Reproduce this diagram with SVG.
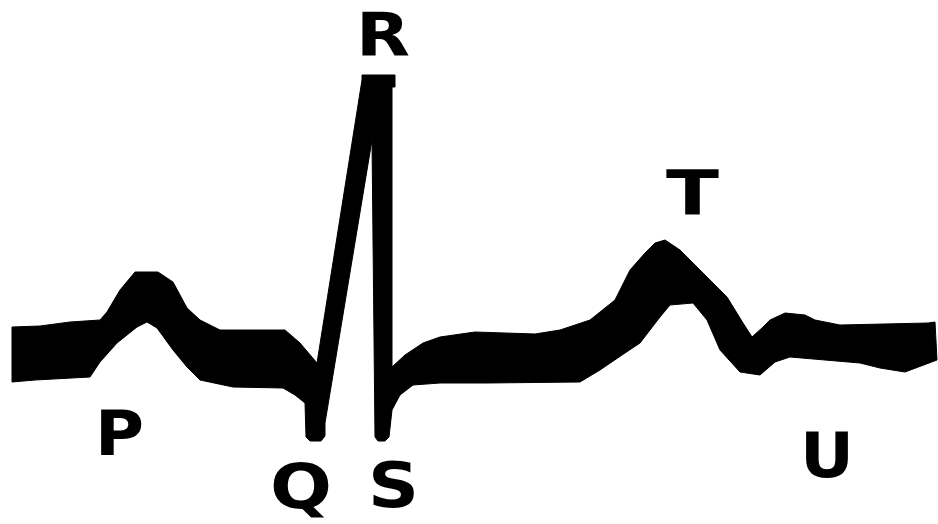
<svg xmlns="http://www.w3.org/2000/svg" width="938" height="524" viewBox="0 0 938 524">
<style>
.lbl{font-family:"DejaVu Sans","Verdana",sans-serif;font-weight:bold;font-size:62px;fill:#000;text-anchor:middle}
.wave{fill:#000;stroke:#000;stroke-width:1;stroke-linejoin:round}
</style>
<rect width="938" height="524" fill="#fff"/>
<g id="waveform">
<polygon class="wave" points="12,327 40,326 70,322 100,320 107,312 120,290 135,272 158,272 173,282 187,308 200,320 220,330 285,330 300,343 317,363 362,80 362,75 395,75 395,87 392,87 392,367 405,355 423,343 440,337 475,332 535,334 560,330 590,320 615,300 630,270 645,253 655,243 665,240 680,250 700,270 727,297 743,323 752,337 762,328 770,320 785,313 805,315 815,320 840,325 928,323 935,322 937,360 905,372 880,368 860,363 790,357 775,362 760,375 740,372 720,350 707,320 693,303 670,305 660,317 640,343 625,353 600,370 580,382 487,383 440,383 413,385 400,395 392,410 389,437 385,441 378,441 375,437 372,140 325,423 325,436 321,441 310,441 306,437 305,403 295,395 283,388 233,387 200,380 187,367 173,350 157,328 147,322 137,327 117,343 100,362 90,377 35,380 12,382"/>
</g>
<g id="labels">
<text id="label-P" class="lbl" x="119.5" y="455" textLength="49" lengthAdjust="spacingAndGlyphs">P</text>
<text id="label-R" class="lbl" x="383" y="56" style="font-size:60px" textLength="54" lengthAdjust="spacingAndGlyphs">R</text>
<text id="label-Q" class="lbl" x="301" y="508" textLength="62" lengthAdjust="spacingAndGlyphs">Q</text>
<text id="label-S" class="lbl" x="393.5" y="507" textLength="51" lengthAdjust="spacingAndGlyphs">S</text>
<text id="label-T" class="lbl" x="692.5" y="215" textLength="53" lengthAdjust="spacingAndGlyphs">T</text>
<text id="label-U" class="lbl" x="827" y="477" textLength="54" lengthAdjust="spacingAndGlyphs">U</text>
</g>
</svg>
